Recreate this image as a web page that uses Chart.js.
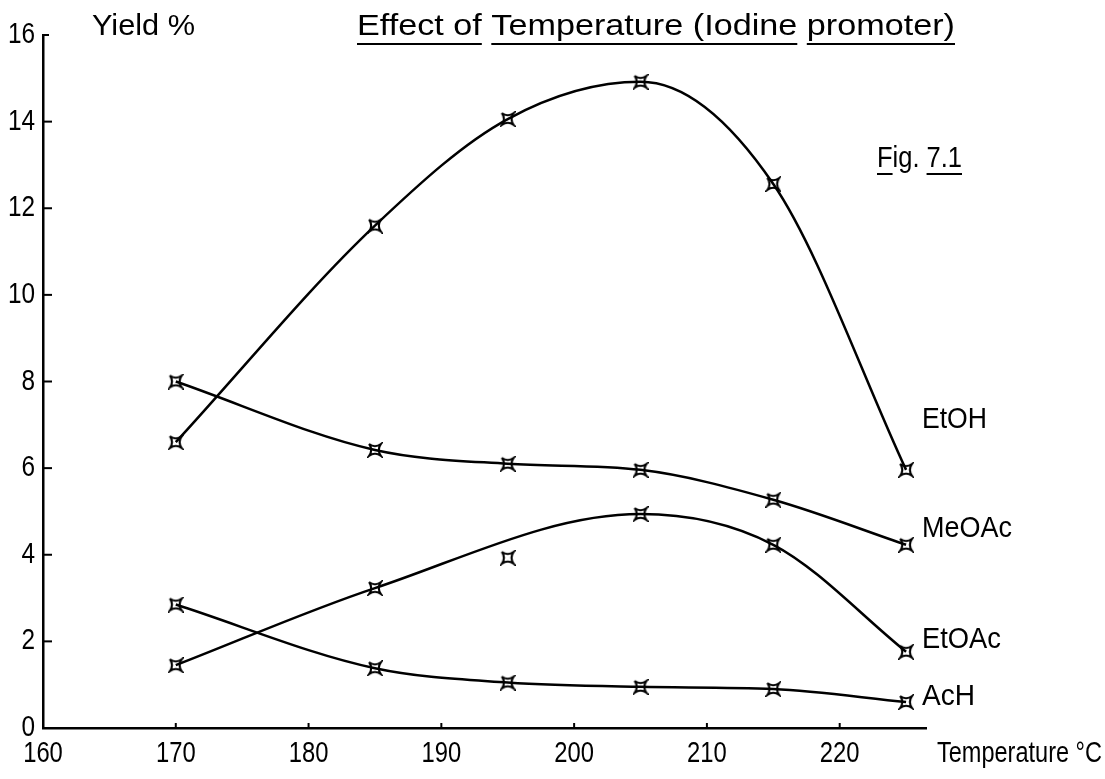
<!DOCTYPE html>
<html>
<head>
<meta charset="utf-8">
<script src="https://cdn.jsdelivr.net/npm/chart.js@4.4.1/dist/chart.umd.min.js"></script>
<style>
  html, body { margin: 0; padding: 0; background: #fff; }
  #wrap { width: 1105px; height: 779px; position: relative; }
</style>
</head>
<body>
<div id="wrap"><canvas id="c" width="1105" height="779"></canvas></div>
<script>
// Reaction temperature (°C) and product yields (%)
const temps = [170, 185, 195, 205, 215, 225];
const etoh  = [6.6, 11.6, 14.06, 14.92, 12.56, 5.96];
const meoac = [8.0, 6.42, 6.1, 5.96, 5.27, 4.23];
const etoac = [1.45, 3.23, 3.93, 4.94, 4.23, 1.76];
const ach   = [2.85, 1.38, 1.05, 0.95, 0.9, 0.6];

// EtOAc point at 195 °C sits off the fitted curve
const etoacOutliers = [195];

const xTicks = [160, 170, 180, 190, 200, 210, 220];
const yTicks = [0, 2, 4, 6, 8, 10, 12, 14, 16];

const seriesNames = ['EtOH', 'MeOAc', 'EtOAc', 'AcH'];

const FONT = "'Liberation Sans', 'DejaVu Sans', sans-serif";
const SIZE = 29;

function pts(ys, skip) {
  const out = [];
  temps.forEach((t, i) => { if (!skip || !skip.includes(t)) out.push({ x: t, y: ys[i] }); });
  return out;
}

// Hollow four-pointed cross marker
function makeMarker() {
  const c = document.createElement('canvas');
  c.width = 16; c.height = 16;
  const g = c.getContext('2d');
  g.strokeStyle = '#000';
  g.lineWidth = 2.1;
  const m = 8, r = 6, k = 1.6;
  g.beginPath();
  g.moveTo(m - r, m - r);
  g.quadraticCurveTo(m, m - k, m + r, m - r);
  g.quadraticCurveTo(m + k, m, m + r, m + r);
  g.quadraticCurveTo(m, m + k, m - r, m + r);
  g.quadraticCurveTo(m - k, m, m - r, m - r);
  g.stroke();
  return c;
}
const marker = makeMarker();

const curve = (label, data) => ({
  label, data, showLine: true, cubicInterpolationMode: 'monotone',
  borderColor: '#000', borderWidth: 2.5, pointRadius: 0, fill: false
});
const dots = (label, data) => ({
  label: label + ' points', data, showLine: false,
  pointStyle: marker, pointRadius: 8, borderColor: '#000', backgroundColor: '#000'
});

// Draw text stretched horizontally; align 'left' | 'center' | 'right'
function drawText(ctx, text, x, baseline, sx, align) {
  ctx.save();
  ctx.font = SIZE + 'px ' + FONT;
  const w = ctx.measureText(text).width * sx;
  let left = x;
  if (align === 'center') left = x - w / 2;
  else if (align === 'right') left = x - w;
  ctx.translate(left, baseline);
  ctx.scale(sx, 1);
  ctx.textAlign = 'left';
  ctx.textBaseline = 'alphabetic';
  ctx.fillStyle = '#000';
  ctx.fillText(text, 0, 0);
  ctx.restore();
}

// Draw text fitted to a width; returns the x scale used
function fitText(ctx, text, left, baseline, width) {
  ctx.save();
  ctx.font = SIZE + 'px ' + FONT;
  const sx = width / ctx.measureText(text).width;
  ctx.restore();
  drawText(ctx, text, left, baseline, sx, 'left');
  return sx;
}

function underline(ctx, text, segs, left, y, sx) {
  ctx.save();
  ctx.font = SIZE + 'px ' + FONT;
  ctx.strokeStyle = '#000';
  ctx.lineWidth = 2;
  segs.forEach(([a, b]) => {
    const x0 = left + ctx.measureText(text.slice(0, a)).width * sx;
    const x1 = left + ctx.measureText(text.slice(0, b)).width * sx;
    ctx.beginPath(); ctx.moveTo(x0, y); ctx.lineTo(x1, y); ctx.stroke();
  });
  ctx.restore();
}

const annotations = {
  id: 'annotations',
  afterDraw(chart) {
    const ctx = chart.ctx;
    const xs = chart.scales.x, ys = chart.scales.y;
    const left = xs.left, bottom = ys.bottom;

    // inward tick marks and tick labels
    ctx.save();
    ctx.strokeStyle = '#000';
    ctx.lineWidth = 2;
    xTicks.forEach(v => {
      const px = xs.getPixelForValue(v);
      if (v !== xs.min) {
        ctx.beginPath(); ctx.moveTo(px, bottom); ctx.lineTo(px, bottom - 5); ctx.stroke();
      }
      drawText(ctx, String(v), px, 762, 0.82, 'center');
    });
    yTicks.forEach(v => {
      const py = ys.getPixelForValue(v);
      if (v !== 0) {
        ctx.beginPath(); ctx.moveTo(left, py); ctx.lineTo(left + (v === 16 ? 6 : 9), py); ctx.stroke();
      }
      drawText(ctx, String(v), 35, py + 8, 0.84, 'right');
    });
    ctx.restore();

    // heading and axis titles
    fitText(ctx, 'Yield %', 92, 35, 103);
    const title = 'Effect of Temperature (Iodine promoter)';
    const sx = fitText(ctx, title, 357, 35, 598);
    const s1 = title.indexOf('Temperature'), s2 = title.indexOf('promoter');
    underline(ctx, title, [[0, 9], [s1, s1 + 19], [s2, title.length]], 357, 44, sx);

    const fig = 'Fig. 7.1';
    const fsx = fitText(ctx, fig, 877, 167, 85);
    underline(ctx, fig, [[0, 1], [5, 8]], 877, 174, fsx);

    fitText(ctx, 'Temperature \u00B0C', 937, 762, 165);

    // series names beside the curve ends
    const labelPos = { EtOH: [428, 65], MeOAc: [537, 90], EtOAc: [648, 79], AcH: [705, 53] };
    seriesNames.forEach(n => fitText(ctx, n, 922, labelPos[n][0], labelPos[n][1]));
  }
};

new Chart(document.getElementById('c'), {
  type: 'line',
  data: {
    datasets: [
      curve('EtOH', pts(etoh)), dots('EtOH', pts(etoh)),
      curve('MeOAc', pts(meoac)), dots('MeOAc', pts(meoac)),
      curve('EtOAc', pts(etoac, etoacOutliers)), dots('EtOAc', pts(etoac)),
      curve('AcH', pts(ach)), dots('AcH', pts(ach))
    ]
  },
  options: {
    responsive: false,
    animation: false,
    layout: { padding: { left: 0, top: 35, right: 179, bottom: 0 } },
    plugins: { legend: { display: false }, title: { display: false }, tooltip: { enabled: false } },
    scales: {
      x: {
        type: 'linear', min: 160, max: 226.5,
        afterBuildTicks: s => { s.ticks = xTicks.map(v => ({ value: v })); },
        afterFit: s => { s.height = 51; },
        grid: { display: false },
        border: { display: true, color: '#000', width: 2.5 },
        ticks: { display: false }
      },
      y: {
        type: 'linear', min: 0, max: 16,
        afterBuildTicks: s => { s.ticks = yTicks.map(v => ({ value: v })); },
        afterFit: s => { s.width = 43; },
        grid: { display: false },
        border: { display: true, color: '#000', width: 2.5 },
        ticks: { display: false }
      }
    }
  },
  plugins: [annotations]
});
</script>
</body>
</html>
